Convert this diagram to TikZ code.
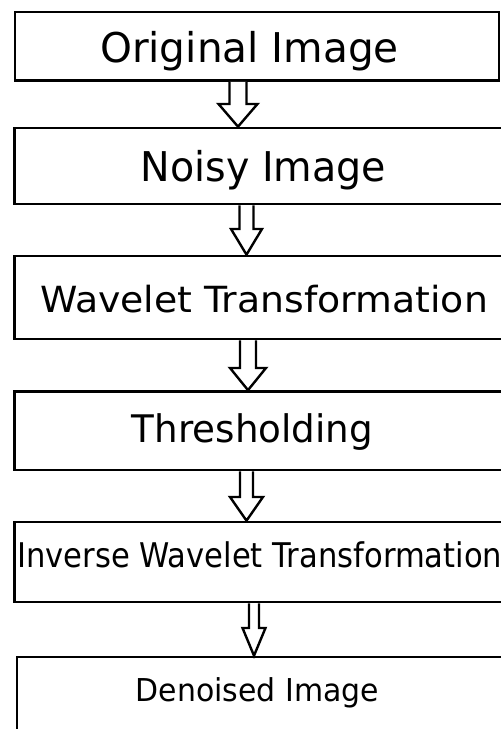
\documentclass[tikz,border=0pt]{standalone}
\usepackage{fontspec}
\setmainfont{DejaVu Sans}
\usetikzlibrary{calc}
\newcommand{\barrow}[6]{%
  \draw[blockarr] let \p1=(#1.south), \p2=(#2.north) in
    ({#3pt-#4pt},\y1) -- ({#3pt-#4pt},{\y2+#6pt}) -- ({#3pt-#5pt},{\y2+#6pt})
    -- (#3pt,\y2) -- ({#3pt+#5pt},{\y2+#6pt}) -- ({#3pt+#4pt},{\y2+#6pt})
    -- ({#3pt+#4pt},\y1);}
\begin{document}
\begin{tikzpicture}[x=1pt,y=-1pt,
  box/.style={draw=black,line width=2.7pt,rectangle,inner sep=0pt},
  lbl/.style={inner sep=0pt,anchor=base,text=black},
  blockarr/.style={draw=black,line width=2.4pt,fill=white,line join=miter}]
\useasboundingbox (0,0) rectangle (501,729);
\clip (0,0) rectangle (501,729);
% boxes
\node[box,minimum width=484pt,minimum height=68.5pt] (b1) at (257,46.25) {};
\node[box,minimum width=545.5pt,minimum height=76pt] (b2) at (287.25,166) {};
\node[box,minimum width=545.5pt,minimum height=83pt] (b3) at (287.25,297.5) {};
\node[box,minimum width=545.5pt,minimum height=78.5pt] (b4) at (287.25,430.75) {};
\node[box,minimum width=545.5pt,minimum height=80pt] (b5) at (287.25,562) {};
\node[box,minimum width=543pt,minimum height=103pt] (b6) at (288.5,708.5) {};
% texts
\node[lbl,font=\fontsize{41}{41}\selectfont] (t1) at (249.5,62) {\scalebox{0.99}[1]{Original Image}};
\node[lbl,font=\fontsize{41}{41}\selectfont] (t2) at (263.5,181) {\scalebox{0.965}[1]{Noisy Image}};
\node[lbl,font=\fontsize{36}{36}\selectfont] (t3) at (264,312) {\scalebox{1.05}[1]{Wavelet Transformation}};
\node[lbl,font=\fontsize{38}{38}\selectfont] (t4) at (252.5,442) {\scalebox{0.98}[1]{Thresholding}};
\node[lbl,anchor=base west,font=\fontsize{34}{34}\selectfont] (t5) at (17,567) {\scalebox{0.9}[1]{Inverse Wavelet Transformation}};
\node[lbl,font=\fontsize{31.5}{31.5}\selectfont] (t6) at (257.5,701) {\scalebox{0.95}[1]{Denoised Image}};
% block arrows
\barrow{b1}{b2}{238}{8.5}{19.5}{22.7}
\barrow{b2}{b3}{246.5}{7}{15.5}{25.7}
\barrow{b3}{b4}{248}{8}{18}{22.2}
\barrow{b4}{b5}{246.5}{6.5}{16.5}{23.7}
\barrow{b5}{b6}{254}{5}{11.5}{27.7}
\end{tikzpicture}
\end{document}
